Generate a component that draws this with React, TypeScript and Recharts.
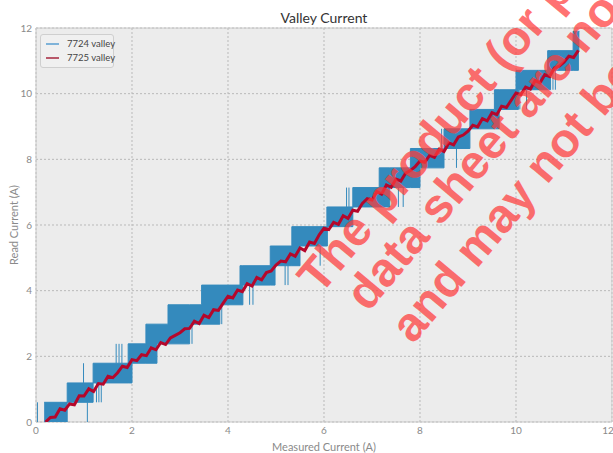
import React from 'react'
import { ComposedChart, Area, Line, XAxis, YAxis, CartesianGrid, ReferenceArea } from 'recharts'

const BLUE = '#348ABD'
const RED = '#b5072b'

const ticks = [0, 2, 4, 6, 8, 10, 12]

// quantised levels of the 7724 reading
const levels = [0, 0.6, 1.19, 1.79, 2.38, 2.98, 3.57, 4.17, 4.76, 5.36, 5.95, 6.55, 7.14, 7.74, 8.33, 8.93, 9.52, 10.12, 10.71, 11.31, 11.9]

// x range where 7724 toggles between levels[i] and levels[i + 1]
const blockStart = [0.17, 0.65, 1.19, 1.92, 2.29, 2.75, 3.45, 4.25, 4.88, 5.33, 6.06, 6.6, 7.15, 7.8, 8.5, 9.04, 9.55, 10.0, 10.66, 11.19]
const blockEnd = [0.65, 1.19, 2.0, 2.52, 3.2, 3.83, 4.31, 4.98, 5.5, 6.07, 6.6, 7.37, 8.0, 8.5, 9.04, 9.65, 10.05, 10.72, 11.3, 11.32]

// stray 7724 samples (vertical strokes)
const spikeX = [0.03, 1.07, 1.26, 1.31, 1.36, 0.99, 1.67, 1.73, 1.79, 3.25, 3.87, 4.45, 4.52, 5.19, 5.25, 5.92, 6.47, 6.52, 7.55, 7.65, 8.45, 8.76, 10.08, 10.22, 10.77, 10.82]
const spikeLo = [0, 0, 0.6, 0.6, 0.6, 1.19, 1.79, 1.79, 1.79, 2.38, 2.98, 3.57, 3.57, 4.17, 4.17, 4.76, 6.55, 6.55, 6.55, 6.55, 8.33, 7.74, 9.52, 9.52, 10.12, 10.12]
const spikeHi = [0.6, 0.6, 1.19, 1.19, 1.19, 1.79, 2.38, 2.38, 2.38, 2.98, 3.57, 4.17, 4.17, 4.76, 4.76, 5.36, 7.14, 7.14, 7.14, 7.14, 8.93, 8.33, 10.12, 10.12, 10.71, 10.71]

// 7725 valley
const redX = [
  0.2, 0.3, 0.4, 0.5, 0.6, 0.7, 0.8, 0.9, 1.0, 1.1, 1.2, 1.3, 1.4, 1.5, 1.6, 1.7, 1.8, 1.9, 2.0, 2.1,
  2.2, 2.3, 2.4, 2.5, 2.6, 2.7, 2.8, 2.9, 3.0, 3.1, 3.2, 3.3, 3.4, 3.5, 3.6, 3.7, 3.8, 3.9, 4.0, 4.1,
  4.2, 4.3, 4.4, 4.5, 4.6, 4.7, 4.8, 4.9, 5.0, 5.1, 5.2, 5.3, 5.4, 5.5, 5.6, 5.7, 5.8, 5.9, 6.0, 6.1,
  6.2, 6.3, 6.4, 6.5, 6.6, 6.7, 6.8, 6.9, 7.0, 7.1, 7.2, 7.3, 7.4, 7.5, 7.6, 7.7, 7.8, 7.9, 8.0, 8.1,
  8.2, 8.3, 8.4, 8.5, 8.6, 8.7, 8.8, 8.9, 9.0, 9.1, 9.2, 9.3, 9.4, 9.5, 9.6, 9.7, 9.8, 9.9, 10.0, 10.1,
  10.2, 10.3, 10.4, 10.5, 10.6, 10.7, 10.8, 10.9, 11.0, 11.1, 11.2, 11.3,
]
const redY = [
  0.0, 0.14, 0.15, 0.4, 0.36, 0.55, 0.52, 0.8, 0.79, 1.01, 0.93, 1.17, 1.15, 1.39, 1.35, 1.5, 1.7, 1.66, 1.9, 1.87,
  2.05, 2.02, 2.26, 2.2, 2.42, 2.36, 2.56, 2.64, 2.72, 2.84, 2.85, 3.07, 3.0, 3.25, 3.18, 3.42, 3.4, 3.62, 3.83, 3.78,
  4.02, 3.97, 4.21, 4.14, 4.4, 4.33, 4.55, 4.6, 4.78, 4.9, 4.88, 5.12, 5.05, 5.3, 5.22, 5.48, 5.44, 5.7, 5.9, 5.86,
  6.08, 6.02, 6.28, 6.2, 6.45, 6.42, 6.66, 6.8, 6.76, 7.02, 6.94, 7.22, 7.15, 7.4, 7.34, 7.58, 7.66, 7.78, 7.95, 7.91,
  8.12, 8.06, 8.31, 8.24, 8.5, 8.44, 8.68, 8.74, 8.86, 9.04, 8.99, 9.24, 9.17, 9.42, 9.36, 9.62, 9.58, 9.8, 10.02, 9.97,
  10.2, 10.14, 10.4, 10.33, 10.58, 10.52, 10.78, 10.84, 10.96, 11.14, 11.1, 11.32,
]

const watermark = ['The product (or products)', 'data sheet are not', 'and may not be']

// union of the overlapping blocks as one stepped band
const breaks = Array.from(new Set([...blockStart, ...blockEnd])).sort((a, b) => a - b)
const bandData = breaks.map((x, i) => {
  const at = i < breaks.length - 1 ? x : breaks[i - 1]
  let lo = Infinity
  let hi = -Infinity
  blockStart.forEach((s, k) => {
    if (s <= at && at < blockEnd[k]) {
      lo = Math.min(lo, levels[k])
      hi = Math.max(hi, levels[k + 1])
    }
  })
  return { x, band: lo === Infinity ? null : [lo, hi] }
})

const spikeData = spikeX.flatMap((x, i) => [
  { x, y: spikeLo[i] },
  { x, y: spikeHi[i] },
  { x, y: null },
])

const redData = redX.map((x, i) => ({ x, y: redY[i] }))

const font = 'Lato, "Open Sans", sans-serif'
const tick = { fontSize: 10, fill: '#8a8a8a', fontFamily: font }

export default function App() {
  return (
    <div style={{ position: 'absolute', left: 0, top: 0, width: 613, height: 453, background: '#fff', overflow: 'hidden' }}>
      <div style={{ position: 'absolute', left: 0, top: 9, width: 648, textAlign: 'center', fontFamily: font, fontSize: 14, color: '#333' }}>
        Valley Current
      </div>
      <ComposedChart width={613} height={453} margin={{ top: 28, right: 1, left: 0, bottom: 0 }}>
        <CartesianGrid stroke="#b9b9b9" strokeDasharray="2 2" fill="#ececec" />
        <XAxis
          type="number"
          dataKey="x"
          domain={[0, 12]}
          ticks={ticks}
          axisLine={false}
          tickLine={false}
          tickSize={3}
          height={31}
          tick={tick}
          allowDataOverflow
          label={{ value: 'Measured Current (A)', position: 'insideBottom', offset: 2, fontSize: 11, fill: '#8a8a8a', fontFamily: font }}
        />
        <YAxis
          type="number"
          domain={[0, 12]}
          ticks={ticks}
          axisLine={false}
          tickLine={false}
          tickSize={2}
          width={36}
          tick={tick}
          allowDataOverflow
          label={{ value: 'Read Current (A)', angle: -90, position: 'center', dx: -4, fontSize: 11, fill: '#8a8a8a', fontFamily: font }}
        />
        <ReferenceArea x1={0} x2={12} y1={0} y2={12} fill="none" stroke="#c8c8c8" />
        <Area
          data={bandData}
          dataKey="band"
          type="stepAfter"
          stroke={BLUE}
          strokeWidth={1}
          fill={BLUE}
          fillOpacity={1}
          isAnimationActive={false}
          connectNulls={false}
        />
        <Line data={spikeData} dataKey="y" stroke={BLUE} strokeWidth={1} dot={false} isAnimationActive={false} />
        <Line data={redData} dataKey="y" stroke={RED} strokeWidth={3} dot={false} isAnimationActive={false} />
      </ComposedChart>

      <div
        style={{
          position: 'absolute', left: 40, top: 34, width: 72, height: 32, background: '#f0f0f0',
          border: '1px solid #cfcfcf', borderRadius: 3, fontFamily: font, fontSize: 9.5, color: '#444',
        }}
      >
        {[['7724 valley', '#7fb3d9'], ['7725 valley', '#b8586a']].map(([name, c], i) => (
          <div
            key={name}
            style={{ position: 'absolute', left: 5, top: 3 + i * 14, display: 'flex', alignItems: 'center', whiteSpace: 'nowrap', lineHeight: '12px' }}
          >
            <span style={{ display: 'inline-block', width: 13, height: 1.5, background: c, marginRight: 8 }} />
            <span>{name}</span>
          </div>
        ))}
      </div>

      <svg width={613} height={453} style={{ position: 'absolute', left: 0, top: 0, pointerEvents: 'none' }}>
        {watermark.map((t, i) => {
          const x = [320, 368, 413][i]
          const y = [296, 313, 345][i]
          return (
            <text
              key={t}
              x={x}
              y={y}
              transform={`rotate(-50 ${x} ${y})`}
              fill="#ff3b3b"
              fillOpacity={0.72}
              fontFamily='"Liberation Sans", Arial, sans-serif'
              fontWeight="bold"
              fontSize={48}
            >
              {t}
            </text>
          )
        })}
      </svg>
    </div>
  )
}
